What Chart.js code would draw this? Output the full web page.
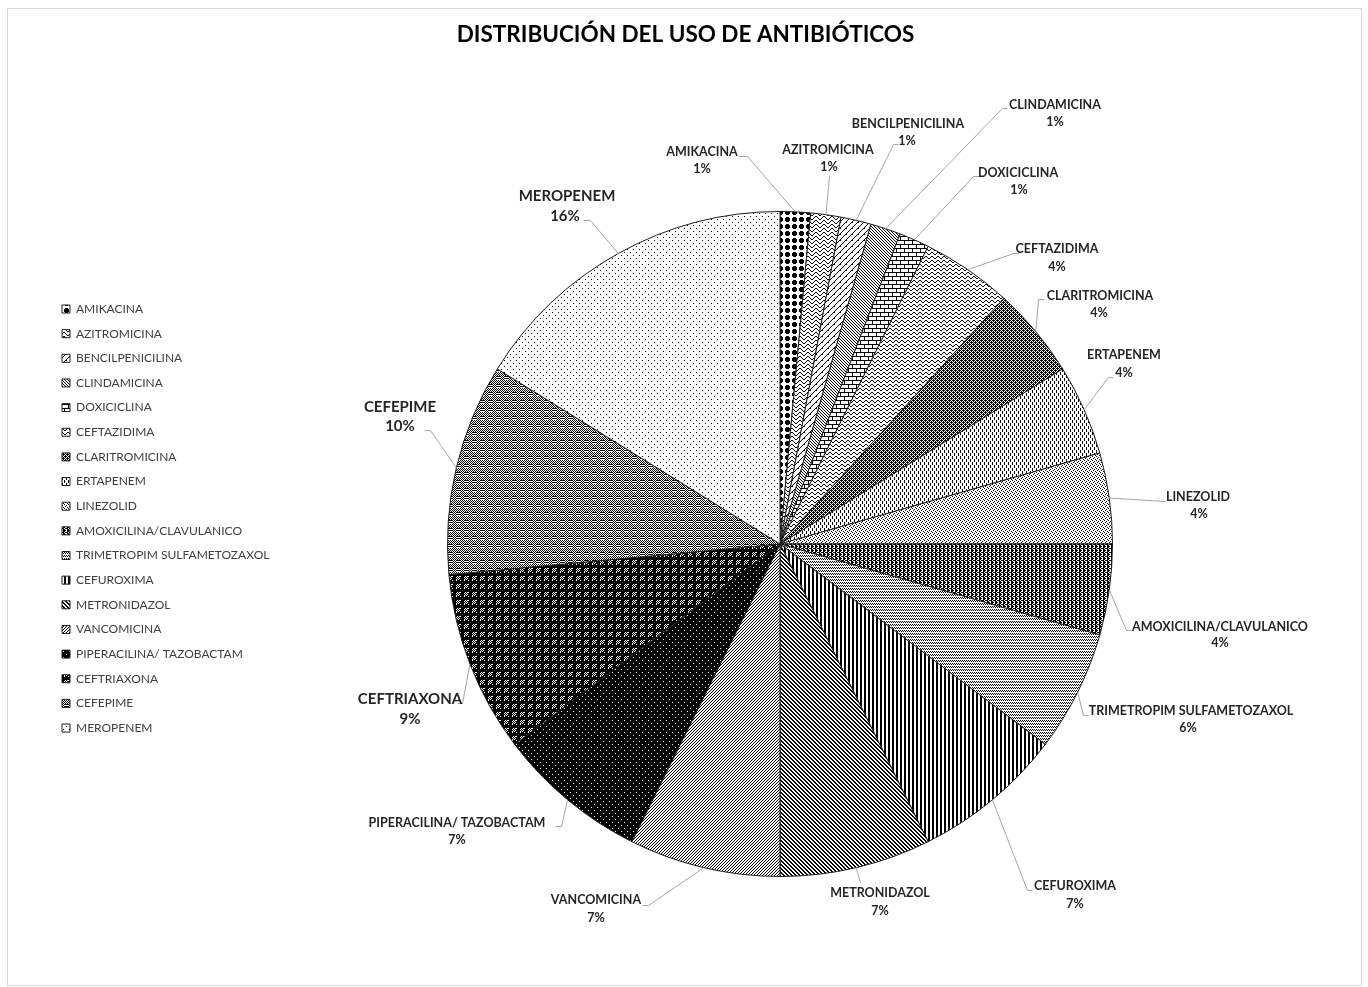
<!DOCTYPE html>
<html><head><meta charset="utf-8">
<script src="https://cdn.jsdelivr.net/npm/chart.js@4.4.1/dist/chart.umd.min.js"></script>
<style>html,body{margin:0;padding:0;background:#fff}canvas{display:block}</style>
</head><body>
<canvas id="c" width="1368" height="987"></canvas>
<script>
// ---------- DATA ----------
const chartTitle = 'DISTRIBUCIÓN DEL USO DE ANTIBIÓTICOS';
const categories = ['AMIKACINA','AZITROMICINA','BENCILPENICILINA','CLINDAMICINA','DOXICICLINA',
  'CEFTAZIDIMA','CLARITROMICINA','ERTAPENEM','LINEZOLID','AMOXICILINA/CLAVULANICO',
  'TRIMETROPIM SULFAMETOZAXOL','CEFUROXIMA','METRONIDAZOL','VANCOMICINA',
  'PIPERACILINA/ TAZOBACTAM','CEFTRIAXONA','CEFEPIME','MEROPENEM'];
const counts = [1,1,1,1,1,3,3,3,3,3,4,5,5,5,5,6,7,11];

// ---------- STYLE: fill patterns (1 = black pixel) ----------
function bitmapPattern(rows){
  const h=rows.length,w=rows[0].length;
  const c=document.createElement('canvas');c.width=w;c.height=h;
  const g=c.getContext('2d');g.fillStyle='#fff';g.fillRect(0,0,w,h);g.fillStyle='#000';
  for(let y=0;y<h;y++)for(let x=0;x<w;x++)if(rows[y][x]==='1')g.fillRect(x,y,1,1);
  return g.createPattern(c,'repeat');
}
function fnPattern(w,h,fn){
  const rows=[];for(let y=0;y<h;y++){let r='';for(let x=0;x<w;x++)r+=fn(x,y)?'1':'0';rows.push(r);}
  return bitmapPattern(rows);
}
const patterns = [
  bitmapPattern(['0011100','0111110','0111110','0111110','0011100','0000000','0000000']), // amikacina
  bitmapPattern(['10000001','01000010','00100100','00011000']), // azitro
  bitmapPattern(['100001','000010','000100','001000','010000','100000']), // bencil
  bitmapPattern(['100','010','001']), // clinda
  bitmapPattern(['11111111','10000000','10000000','10000000','11111111','00001000','00001000','00001000']), // doxi
  bitmapPattern(['011000','100100','000011','000000']), // ceftaz
  bitmapPattern(['1110','0101','1011','0101']), // clari
  bitmapPattern(['1000','1000','1000','0010','0010','0010']), // erta
  bitmapPattern(['1000','0010','0100','0001']), // linezolid
  bitmapPattern(['0111','1001','1101','1001']), // amox
  bitmapPattern(['1010','0101','0000']), // trimet
  bitmapPattern(['1100']), // cefuroxima
  bitmapPattern(['1100','0110','0011','1001']), // metronidazol
  bitmapPattern(['001','010','100']), // vanco
  bitmapPattern(['011111','111111','111111','111011','111111','111111']), // pipera
  fnPattern(8,8,(x,y)=> (x%8<4&&y%8<4)? ((x+y)%2===0) : !(x%4===0&&y%4===0)), // ceftriaxona
  fnPattern(8,8,(x,y)=> (x%8<4&&y%8<4)? (y%2===0) : ((x+y)%2===0)), // cefepime
  bitmapPattern(['100000','000000','000000','000100','000000','000000']) // meropenem
];

// ---------- STYLE: label layout (name x,y ; pct x,y ; leader points ; big font) ----------
const labelLayout = [
  {n:[702,152],p:[702,169],l:[[747,156],[739,156]]},
  {n:[828,150],p:[829,167],l:[[829,176]]},
  {n:[908,124],p:[907,141],l:[[893,144],[898,144]]},
  {n:[1055,105],p:[1055,122],l:[[1002,108],[1007,108]]},
  {n:[1018,173],p:[1019,190],l:[[973,176],[979,176]]},
  {n:[1057,249],p:[1057,267],l:[[1013,253],[1018,253]]},
  {n:[1100,296],p:[1099,313],l:[[1038,299],[1044,299]]},
  {n:[1124,355],p:[1124,373],l:[[1108,377],[1113,377]]},
  {n:[1198,497],p:[1199,514],l:[[1165,501]]},
  {n:[1220,627],p:[1220,643],l:[[1126,630],[1131,630]]},
  {n:[1191,711],p:[1188,728],l:[[1083,715],[1088,715]]},
  {n:[1075,886],p:[1075,904],l:[[1027,890],[1032,890]]},
  {n:[880,893],p:[880,911],l:[[860,882]]},
  {n:[596,900],p:[596,918],l:[[648,905],[642,905]]},
  {n:[457,823],p:[457,840],l:[[561,826],[555,826]]},
  {n:[410,699],p:[410,719],l:[[462,703],[457,703]],big:true},
  {n:[400,407],p:[400,426],l:[[430,430],[424,430]],big:true},
  {n:[567,196],p:[565,216],l:[[590,220],[583,220]],big:true}
];

const FONT='Lato, "Open Sans", sans-serif';
const LEG_FONT=12, LEG_BOX=8, LEG_PAD=12.65, PAD_L=49.35, PIE_CX=780;

// legend width as Chart.js computes it -> right padding that centres the pie at PIE_CX
const mctx=document.createElement('canvas').getContext('2d');
mctx.font=LEG_FONT+'px '+FONT;
const maxText=Math.max(...categories.map(t=>mctx.measureText(t).width));
const legendW=LEG_PAD+(LEG_BOX+LEG_FONT/2+maxText)+10;
const padRight = 1368 - (2*PIE_CX - (PAD_L+legendW));

const framePlugin={id:'frame',beforeDraw(chart){
  const g=chart.ctx;g.save();g.fillStyle='#fff';g.fillRect(0,0,chart.width,chart.height);
  g.strokeStyle='#d9d9d9';g.lineWidth=1;g.strokeRect(7.5,8.5,1354,977);
  g.font='bold 22.5px '+FONT;g.fillStyle='#000';g.textAlign='center';g.textBaseline='middle';
  g.fillText(chartTitle,685.5,35);
  g.restore();}};

const labelPlugin={id:'outLabels',afterDatasetsDraw(chart){
  const g=chart.ctx;const meta=chart.getDatasetMeta(0);
  const data=chart.data.datasets[0].data;const total=data.reduce((a,b)=>a+b,0);
  g.save();
  meta.data.forEach((arc,i)=>{
    const {x,y,startAngle,endAngle,outerRadius}=arc.getProps(['x','y','startAngle','endAngle','outerRadius'],true);
    const mid=(startAngle+endAngle)/2;
    const px=x+outerRadius*Math.cos(mid),py=y+outerRadius*Math.sin(mid);
    const L=labelLayout[i];
    g.strokeStyle='#a6a6a6';g.lineWidth=1;g.beginPath();g.moveTo(px,py);
    L.l.forEach(pt=>g.lineTo(pt[0]+0.5,pt[1]+0.5));g.stroke();
    const fs=L.big?15:12.5;
    g.font='bold '+fs+'px '+FONT;g.fillStyle='#262626';g.textAlign='center';g.textBaseline='middle';
    g.fillText(chart.data.labels[i],L.n[0],L.n[1]);
    g.fillText(Math.round(data[i]/total*100)+'%',L.p[0],L.p[1]);
  });
  g.restore();}};

new Chart(document.getElementById('c'),{
  type:'pie',
  data:{labels:categories,datasets:[{data:counts,backgroundColor:patterns,borderColor:'#1f1f1f',borderWidth:1}]},
  options:{
    responsive:false,animation:false,events:[],devicePixelRatio:1,
    layout:{padding:{left:PAD_L,right:padRight,top:211,bottom:110}},
    plugins:{
      title:{display:false},
      legend:{display:true,position:'left',align:'start',fullSize:false,
        title:{display:true,text:'',font:{family:FONT,size:12},padding:{top:64.95,bottom:0}},
        labels:{boxWidth:LEG_BOX,boxHeight:LEG_BOX,padding:LEG_PAD,color:'#404040',font:{family:FONT,size:LEG_FONT}}},
      tooltip:{enabled:false}
    }
  },
  plugins:[framePlugin,labelPlugin]
});
</script>
</body></html>
